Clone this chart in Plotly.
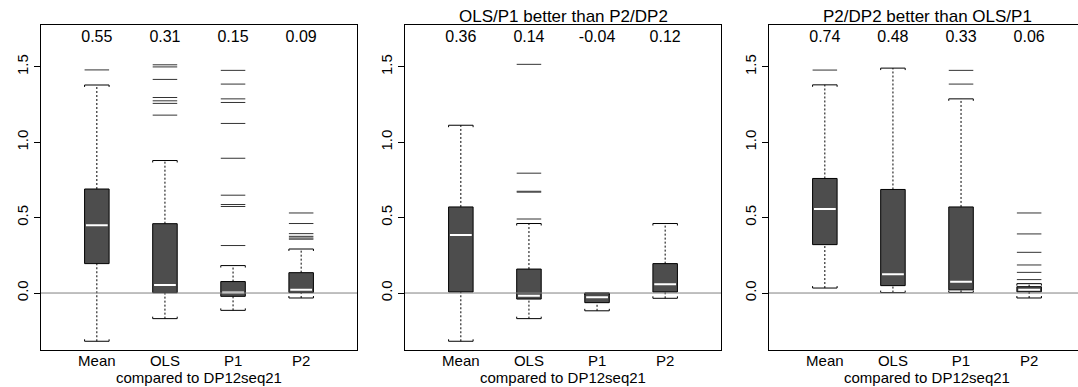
import plotly.graph_objects as go

# ---------------- data ----------------
categories = ["Mean", "OLS", "P1", "P2"]
panel_titles = ["", "OLS/P1 better than P2/DP2", "P2/DP2 better than OLS/P1"]
x_title = "compared to DP12seq21"
y_tick_vals = [0.0, 0.5, 1.0, 1.5]
y_tick_text = ["0.0", "0.5", "1.0", "1.5"]

# panel 1 (all)
p1_summary = [0.55, 0.31, 0.15, 0.09]
p1_lower = [-0.32, -0.17, -0.115, -0.033]
p1_q1 = [0.195, 0.002, -0.022, 0.003]
p1_median = [0.45, 0.053, 0.004, 0.022]
p1_q3 = [0.69, 0.46, 0.076, 0.135]
p1_upper = [1.38, 0.879, 0.182, 0.292]
p1_outliers = [
    [1.48],
    [1.514, 1.50, 1.417, 1.297, 1.275, 1.258, 1.18],
    [1.477, 1.386, 1.288, 1.264, 1.125, 0.894, 0.649, 0.587, 0.574, 0.315],
    [0.531, 0.461, 0.394, 0.376, 0.365, 0.357],
]

# panel 2 (OLS/P1 better than P2/DP2)
p2_summary = [0.36, 0.14, -0.04, 0.12]
p2_lower = [-0.32, -0.17, -0.118, -0.035]
p2_q1 = [0.007, -0.04, -0.064, 0.007]
p2_median = [0.385, -0.018, -0.028, 0.058]
p2_q3 = [0.571, 0.159, -0.001, 0.195]
p2_upper = [1.113, 0.461, 0.0, 0.461]
p2_outliers = [
    [],
    [1.517, 0.795, 0.675, 0.669, 0.491],
    [],
    [],
]

# panel 3 (P2/DP2 better than OLS/P1)
p3_summary = [0.74, 0.48, 0.33, 0.06]
p3_lower = [0.033, 0.003, 0.004, -0.033]
p3_q1 = [0.321, 0.049, 0.021, 0.008]
p3_median = [0.558, 0.124, 0.075, 0.022]
p3_q3 = [0.76, 0.687, 0.571, 0.042]
p3_upper = [1.381, 1.492, 1.288, 0.062]
p3_outliers = [
    [1.479],
    [],
    [1.477, 1.386],
    [0.531, 0.392, 0.27, 0.186, 0.137, 0.089],
]

panels = [
    (p1_summary, p1_lower, p1_q1, p1_median, p1_q3, p1_upper, p1_outliers),
    (p2_summary, p2_lower, p2_q1, p2_median, p2_q3, p2_upper, p2_outliers),
    (p3_summary, p3_lower, p3_q1, p3_median, p3_q3, p3_upper, p3_outliers),
]

# ---------------- style ----------------
W, H = 1078, 387
FONT = "Liberation Sans, Arial, Helvetica, sans-serif"
x_domains = [[41 / W, 357 / W], [405 / W, 721 / W], [769 / W, 1.0]]
x_ranges = [[0.18, 4.82], [0.18, 4.82], [0.18, 0.18 + 309 / 68.1]]
y_domain = [1 - 350.3 / H, 1 - 24.7 / H]
y_range = [-0.38, 1.78]
half = 0.18       # half box width (x units)
cap = 0.013       # staple end tick length (y units)
box_fill = "#4d4d4d"
summary_y = 1.695

fig = go.Figure()
annotations = []
shapes = []

for k, (summ, lw, q1, med, q3, uw, outs) in enumerate(panels):
    xa = "x" if k == 0 else f"x{k+1}"
    ya = "y" if k == 0 else f"y{k+1}"
    xpos = list(range(1, len(categories) + 1))
    centre_frac = 0.5 if k < 2 else 0.5 * 316 / 309

    # whiskers (dotted)
    wx, wy = [], []
    for i, x in enumerate(xpos):
        wx += [x, x, None, x, x, None]
        wy += [lw[i], q1[i], None, q3[i], uw[i], None]
    fig.add_trace(go.Scatter(x=wx, y=wy, xaxis=xa, yaxis=ya, mode="lines",
                             line=dict(color="black", width=1, dash="2px,2px"),
                             hoverinfo="skip", showlegend=False))
    # boxes
    bx, by = [], []
    for i, x in enumerate(xpos):
        bx += [x - half, x + half, x + half, x - half, x - half, None]
        by += [q1[i], q1[i], q3[i], q3[i], q1[i], None]
    fig.add_trace(go.Scatter(x=bx, y=by, xaxis=xa, yaxis=ya, mode="lines",
                             fill="toself", fillcolor=box_fill,
                             line=dict(color="black", width=1),
                             hoverinfo="skip", showlegend=False))
    # medians
    mx, my = [], []
    for i, x in enumerate(xpos):
        mx += [x - half + 0.02, x + half - 0.02, None]
        my += [med[i], med[i], None]
    fig.add_trace(go.Scatter(x=mx, y=my, xaxis=xa, yaxis=ya, mode="lines",
                             line=dict(color="white", width=2),
                             hoverinfo="skip", showlegend=False))
    # staples with small end ticks pointing toward the box
    sx, sy = [], []
    for i, x in enumerate(xpos):
        sx += [x - half, x - half, x + half, x + half, None]
        sy += [uw[i] - cap, uw[i], uw[i], uw[i] - cap, None]
        sx += [x - half, x - half, x + half, x + half, None]
        sy += [lw[i] + cap, lw[i], lw[i], lw[i] + cap, None]
    fig.add_trace(go.Scatter(x=sx, y=sy, xaxis=xa, yaxis=ya, mode="lines",
                             line=dict(color="black", width=1),
                             hoverinfo="skip", showlegend=False))
    # outliers drawn as short horizontal dashes
    ox, oy = [], []
    for i, x in enumerate(xpos):
        for v in outs[i]:
            ox += [x - half, x + half, None]
            oy += [v, v, None]
    if ox:
        fig.add_trace(go.Scatter(x=ox, y=oy, xaxis=xa, yaxis=ya, mode="lines",
                                 line=dict(color="#333333", width=1),
                                 hoverinfo="skip", showlegend=False))
    # summary numbers on top
    fig.add_trace(go.Scatter(x=xpos, y=[summary_y] * len(xpos), xaxis=xa, yaxis=ya,
                             mode="text", text=[f"{v:.2f}" for v in summ],
                             textfont=dict(family=FONT, size=16, color="black"),
                             textposition="middle center",
                             hoverinfo="skip", showlegend=False))
    # zero reference line
    shapes.append(dict(type="line", xref=f"{xa} domain", yref=ya,
                       x0=0, x1=1, y0=0, y1=0,
                       line=dict(color="#808080", width=1), layer="above"))
    # panel title
    if panel_titles[k]:
        annotations.append(dict(text=panel_titles[k], xref=f"{xa} domain", yref="paper",
                                x=centre_frac, y=1 - 16.7 / H,
                                xanchor="center", yanchor="middle", showarrow=False,
                                font=dict(family=FONT, size=17, color="black")))
    # x-axis title
    annotations.append(dict(text=x_title, xref=f"{xa} domain", yref="paper",
                            x=centre_frac, y=0, borderpad=0,
                            xanchor="center", yanchor="bottom", showarrow=False,
                            font=dict(family=FONT, size=15, color="black")))

    axis_x = dict(domain=x_domains[k], range=x_ranges[k], anchor=ya,
                  tickvals=xpos, ticktext=categories, ticks="",
                  ticklabelstandoff=-3,
                  showline=True, mirror=True, linecolor="black", linewidth=1,
                  showgrid=False, zeroline=False, fixedrange=True,
                  tickfont=dict(family=FONT, size=15, color="black"))
    axis_y = dict(domain=y_domain, range=y_range, anchor=xa,
                  tickvals=y_tick_vals, ticktext=y_tick_text,
                  ticks="outside", ticklen=6, tickcolor="black", tickangle=-90,
                  showline=True, mirror=(k < 2), linecolor="black", linewidth=1,
                  showgrid=False, zeroline=False, fixedrange=True,
                  tickfont=dict(family=FONT, size=15, color="black"))
    if k == 0:
        fig.update_layout(xaxis=axis_x, yaxis=axis_y)
    else:
        fig.update_layout(**{f"xaxis{k+1}": axis_x, f"yaxis{k+1}": axis_y})

fig.update_layout(width=W, height=H, margin=dict(l=0, r=0, t=0, b=0),
                  paper_bgcolor="white", plot_bgcolor="white",
                  showlegend=False, annotations=annotations, shapes=shapes,
                  font=dict(family=FONT, color="black"))

fig.write_html("out.html")
